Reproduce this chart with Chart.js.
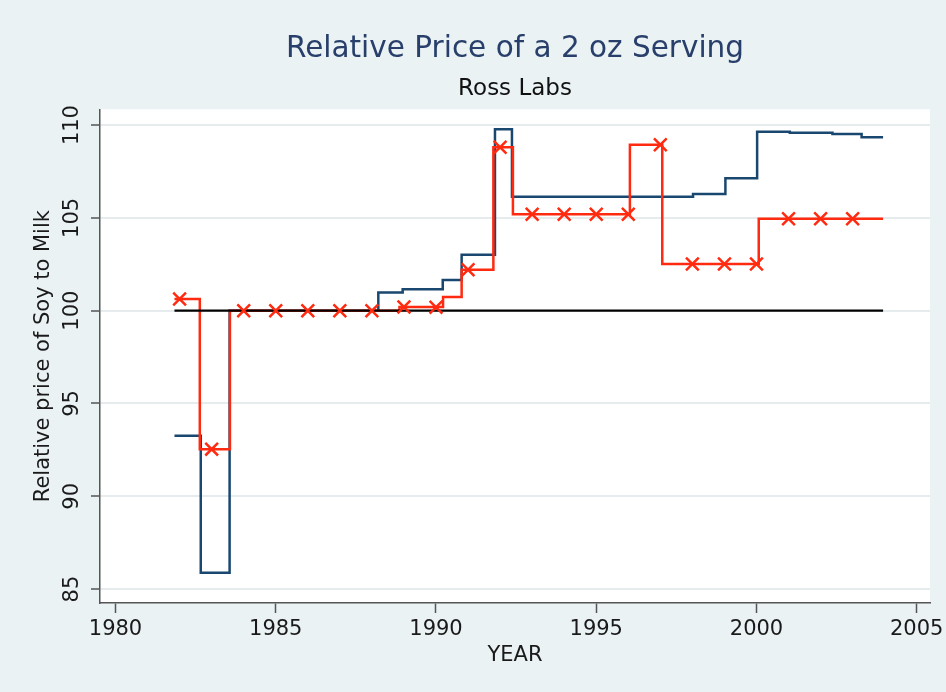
<!DOCTYPE html>
<html><head><meta charset="utf-8">
<script src="https://cdn.jsdelivr.net/npm/chart.js@4"></script>
<style>html,body{margin:0;padding:0;background:#eaf2f3;} canvas{display:block;}</style>
</head><body>
<canvas id="c" width="946" height="692"></canvas>
<script>
const chartTitle = 'Relative Price of a 2 oz Serving';
const chartSubtitle = 'Ross Labs';
const xAxisTitle = 'YEAR';
const yAxisTitle = 'Relative price of Soy to Milk';
const xTickValues = [1980, 1985, 1990, 1995, 2000, 2005];
const yTickValues = [85, 90, 95, 100, 105, 110];

// Soy series (blue): year where a new value starts, and that value
const blueYears  = [1981.84, 1982.66, 1983.56, 1988.20, 1988.96, 1990.21, 1990.80, 1991.84, 1992.37, 1998.02, 1999.03, 2000.02, 2001.04, 2002.37, 2003.28, 2003.95];
const blueValues = [93.26, 85.88, 100.0, 100.98, 101.15, 101.65, 103.02, 109.77, 106.14, 106.28, 107.13, 109.64, 109.59, 109.52, 109.34, 109.34];

// Red series (stairstep line)
const redYears  = [1981.84, 1982.63, 1983.57, 1988.86, 1990.22, 1990.80, 1991.79, 1992.40, 1996.05, 1997.06, 2000.07, 2003.95];
const redValues = [100.63, 92.54, 100.0, 100.2, 100.74, 102.2, 108.8, 105.19, 108.94, 102.51, 104.95, 104.95];

// Red series yearly markers
const markerYears  = [1982, 1983, 1984, 1985, 1986, 1987, 1988, 1989, 1990, 1991, 1992, 1993, 1994, 1995, 1996, 1997, 1998, 1999, 2000, 2001, 2002, 2003];
const markerValues = [100.63, 92.54, 100, 100, 100, 100, 100, 100.2, 100.18, 102.2, 108.8, 105.19, 105.19, 105.19, 105.19, 108.94, 102.51, 102.51, 102.51, 104.95, 104.95, 104.95];

// Reference line at parity
const refYears  = [1981.84, 2003.95];
const refValues = [100, 100];

const pts = (xs, ys) => xs.map((x, i) => ({x: x, y: ys[i]}));

const BLUE = '#1a476f', RED = '#ff2a10', TEXT = '#1a1a1a', AXIS = '#555555';
Chart.defaults.font.family = 'DejaVu Sans';
Chart.defaults.color = TEXT;

const bgPlugin = {
  id: 'bg',
  beforeDraw(chart) {
    const {ctx, chartArea: a, width, height} = chart;
    ctx.save();
    ctx.fillStyle = '#eaf2f3';
    ctx.fillRect(0, 0, width, height);
    ctx.fillStyle = '#ffffff';
    ctx.fillRect(a.left, a.top, a.right - a.left, a.bottom - a.top);
    ctx.restore();
  }
};

new Chart(document.getElementById('c'), {
  type: 'line',
  data: {
    datasets: [
      { label: 'markers', data: pts(markerYears, markerValues), showLine: false, pointStyle: 'crossRot', pointRadius: 9, pointBorderWidth: 2.5, borderColor: RED, backgroundColor: RED, order: 0 },
      { label: 'parity', data: pts(refYears, refValues), borderColor: '#000000', borderWidth: 2.2, pointRadius: 0, order: 1 },
      { label: 'red', data: pts(redYears, redValues), stepped: 'before', borderColor: RED, borderWidth: 2.5, pointRadius: 0, order: 2 },
      { label: 'blue', data: pts(blueYears, blueValues), stepped: 'before', borderColor: BLUE, borderWidth: 2.5, pointRadius: 0, order: 3 }
    ]
  },
  options: {
    responsive: false,
    animation: false,
    devicePixelRatio: 1,
    layout: { padding: { left: 0, right: 16, top: 0, bottom: 0 } },
    plugins: {
      legend: { display: false },
      tooltip: { enabled: false },
      title: { display: true, fullSize: false, text: chartTitle, color: '#283f6b', font: { size: 29.5, weight: 'normal', lineHeight: 1.2 }, padding: { top: 32, bottom: 4 } },
      subtitle: { display: true, fullSize: false, text: chartSubtitle, color: '#111111', font: { size: 23, weight: 'normal', lineHeight: 1.2 }, padding: { top: 4, bottom: 6.3 } }
    },
    scales: {
      x: {
        type: 'linear',
        min: 1979.516, max: 2005.414,
        afterBuildTicks: s => { s.ticks = xTickValues.map(v => ({ value: v })); },
        afterFit: s => { s.height = 89; s.paddingLeft = 0; s.paddingRight = 0; },
        ticks: { callback: v => String(v), font: { size: 21 }, color: TEXT, padding: 4, maxRotation: 0, autoSkip: false },
        grid: { drawOnChartArea: false, drawTicks: true, tickLength: 10, tickColor: AXIS, tickWidth: 1.5 },
        border: { display: true, color: AXIS, width: 1.5 },
        title: { display: true, text: xAxisTitle, color: TEXT, font: { size: 21, lineHeight: 1.2 }, padding: { top: 0, bottom: 23.7 } }
      },
      y: {
        type: 'linear',
        min: 84.25, max: 110.85,
        afterBuildTicks: s => { s.ticks = yTickValues.map(v => ({ value: v })); },
        afterFit: s => { s.width = 100; s.paddingTop = 0; s.paddingBottom = 0; },
        ticks: { callback: v => String(v), font: { size: 21 }, color: TEXT, padding: -2, minRotation: 90, maxRotation: 90, crossAlign: 'center', autoSkip: false },
        grid: { drawOnChartArea: true, color: '#e6eced', lineWidth: 2, drawTicks: true, tickLength: 9, tickColor: AXIS, tickWidth: 1.5 },
        border: { display: true, color: AXIS, width: 1.5 },
        title: { display: true, text: yAxisTitle, color: TEXT, font: { size: 21, lineHeight: 1.2 }, padding: { top: 30.6, bottom: 0 } }
      }
    }
  },
  plugins: [bgPlugin]
});
</script>
</body></html>
